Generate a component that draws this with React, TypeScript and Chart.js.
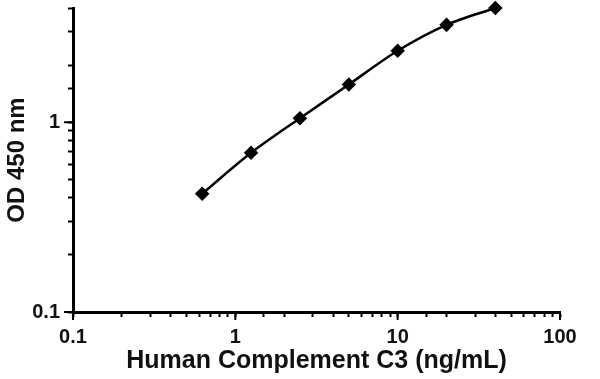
import React, { useEffect, useRef } from "react";
import { Chart, registerables } from "chart.js";

Chart.register(...registerables);

const concentrations = [0.625, 1.25, 2.5, 5, 10, 20, 40];
const odValues = [0.42, 0.69, 1.05, 1.58, 2.38, 3.26, 4.0];
const xLabeled = [0.1, 1, 10, 100];
const yLabeled = [0.1, 1];
const xTitle = "Human Complement C3 (ng/mL)";
const yTitle = "OD 450 nm";

const isLabeled = (v: number, list: number[]) =>
  list.some((l) => Math.abs(v - l) / l < 1e-6);

const majorTicks = {
  id: "majorTicks",
  afterDraw(chart: any) {
    const ctx = chart.ctx;
    const xs = chart.scales.x;
    const ys = chart.scales.y;
    ctx.save();
    ctx.strokeStyle = "#000";
    ctx.lineWidth = 2;
    xLabeled.forEach((v) => {
      const px = xs.getPixelForValue(v);
      ctx.beginPath();
      ctx.moveTo(px, xs.top);
      ctx.lineTo(px, xs.top + 8);
      ctx.stroke();
    });
    yLabeled.forEach((v) => {
      const py = ys.getPixelForValue(v);
      ctx.beginPath();
      ctx.moveTo(ys.right, py);
      ctx.lineTo(ys.right - 9, py);
      ctx.stroke();
    });
    ctx.restore();
  },
};

export default function App() {
  const ref = useRef<HTMLCanvasElement | null>(null);
  useEffect(() => {
    if (!ref.current) return;
    const font = { family: "'Liberation Sans', Arial, sans-serif", weight: "bold" as const };
    const chart = new Chart(ref.current, {
      type: "line",
      data: {
        datasets: [
          {
            data: concentrations.map((x, i) => ({ x, y: odValues[i] })),
            borderColor: "#000",
            backgroundColor: "#000",
            borderWidth: 2.5,
            tension: 0.3,
            pointStyle: "rectRot",
            pointRadius: 5.5,
            pointBackgroundColor: "#000",
            pointBorderColor: "#000",
            clip: false as any,
          },
        ],
      },
      options: {
        animation: false,
        responsive: false,
        layout: { padding: { top: 6, right: 40, left: 0, bottom: 0 } },
        plugins: { legend: { display: false }, tooltip: { enabled: false } },
        scales: {
          x: {
            type: "logarithmic",
            min: 0.1,
            max: 100,
            afterFit: (s: any) => {
              s.height = 67;
              s.paddingLeft = 0;
              s.paddingRight = 0;
            },
            border: { display: true, color: "#000", width: 3 },
            grid: {
              display: true,
              drawOnChartArea: false,
              drawTicks: true,
              tickLength: 5,
              tickColor: "#000",
              tickWidth: 2,
            },
            ticks: {
              autoSkip: false,
              maxRotation: 0,
              color: "#111",
              font: { ...font, size: 20 },
              padding: 8,
              callback: (v: any) => (isLabeled(Number(v), xLabeled) ? String(v) : ""),
            },
            title: {
              display: true,
              text: xTitle,
              color: "#111",
              font: { ...font, size: 25 },
              padding: { top: 0, bottom: 3 },
            },
          },
          y: {
            type: "logarithmic",
            min: 0.1,
            max: 4,
            afterFit: (s: any) => {
              s.width = 73;
              s.paddingTop = 0;
              s.paddingBottom = 0;
            },
            border: { display: true, color: "#000", width: 3 },
            grid: {
              display: true,
              drawOnChartArea: false,
              drawTicks: true,
              tickLength: 5,
              tickColor: "#000",
              tickWidth: 2,
            },
            ticks: {
              autoSkip: false,
              color: "#111",
              font: { ...font, size: 20 },
              padding: 8,
              callback: (v: any) => (isLabeled(Number(v), yLabeled) ? String(v) : ""),
            },
            title: {
              display: true,
              text: yTitle,
              color: "#111",
              font: { ...font, size: 24 },
              padding: { top: 3, bottom: 0 },
            },
          },
        },
      },
      plugins: [majorTicks],
    });
    return () => chart.destroy();
  }, []);
  return (
    <div style={{ position: "fixed", left: 0, top: 0, width: 600, height: 379, background: "#fff" }}>
      <canvas ref={ref} width={600} height={379} />
    </div>
  );
}
